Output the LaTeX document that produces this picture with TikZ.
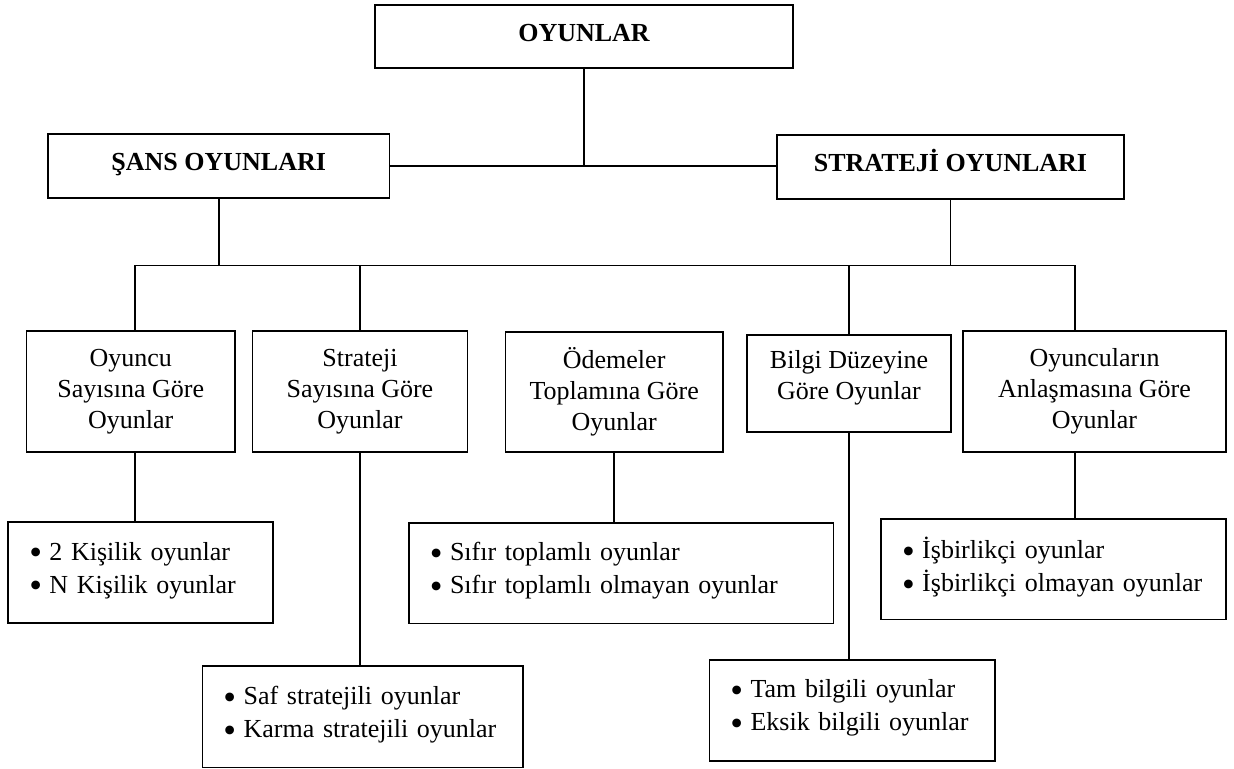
\documentclass[tikz,border=0pt]{standalone}
\usepackage{fontspec}
\setmainfont{Liberation Serif}
\newcommand{\lowstrut}[1]{\rule[-#1]{0pt}{0pt}}
\newcommand{\bul}{\raisebox{-2.4pt}{\scalebox{1.4}{\textbullet}}\kern-0.6pt\ }
\begin{document}
\begin{tikzpicture}[x=0.5pt,y=-0.5pt,
  box/.style={draw,line width=0.8pt,inner sep=0pt,outer sep=0pt,align=center,
    font=\fontsize{13pt}{15.5pt}\selectfont},
  headbox/.style={box,font=\fontsize{13pt}{15.5pt}\selectfont\bfseries,text height=9pt,text depth=4pt},
  listbox/.style={draw,line width=0.8pt,outer sep=0pt,inner ysep=0pt,inner xsep=10.5pt,align=left,
    font=\fontsize{13pt}{16.5pt}\selectfont},
  conn/.style={line width=0.75pt}]
\useasboundingbox (0,0) rectangle (1234,769);
% head boxes
\node[headbox,minimum width=209pt,minimum height=31.5pt] (top) at (584,36.5) {OYUNLAR};
\node[headbox,minimum width=170.75pt,minimum height=32pt] (sans) at (218.75,166) {ŞANS OYUNLARI};
\node[headbox,minimum width=173.5pt,minimum height=32pt] (strat) at (950.5,167) {STRATEJİ OYUNLARI};
% category boxes
\node[box,minimum width=104.25pt,minimum height=60.5pt] (c1) at (130.75,391.5) {Oyuncu\\Sayısına Göre\\Oyunlar};
\node[box,minimum width=107.35pt,minimum height=60.5pt] (c2) at (360,391.5) {Strateji\\Sayısına Göre\\Oyunlar};
\node[box,minimum width=108.85pt,minimum height=60pt] (c3) at (614.15,392) {Ödemeler\\Toplamına Göre\\Oyunlar};
\node[box,minimum width=102pt,minimum height=48.5pt] (c4) at (849,383.5) {Bilgi Düzeyine\\Göre Oyunlar\lowstrut{9pt}};
\node[box,minimum width=131.5pt,minimum height=60.5pt] (c5) at (1094.5,391.5) {Oyuncuların\\Anlaşmasına Göre\\Oyunlar};
% list boxes
\node[listbox,text width=111.5pt,minimum height=50.5pt] (l1) at (140.75,572.5) {\bul 2 Kişilik oyunlar\\\bul N Kişilik oyunlar\lowstrut{5pt}};
\node[listbox,text width=139.35pt,minimum height=50.65pt] (l2) at (362.75,716.65) {\bul Saf stratejili oyunlar\\\bul Karma stratejili oyunlar\lowstrut{5pt}};
\node[listbox,text width=191.35pt,minimum height=50.3pt] (l3) at (621.15,573) {\bul Sıfır toplamlı oyunlar\\\bul Sıfır toplamlı olmayan oyunlar\lowstrut{5pt}};
\node[listbox,text width=121.75pt,minimum height=50.35pt] (l4) at (852.05,710.35) {\bul Tam bilgili oyunlar\\\bul Eksik bilgili oyunlar\lowstrut{5pt}};
\node[listbox,text width=151.35pt,minimum height=50.3pt] (l5) at (1053.35,569) {\bul İşbirlikçi oyunlar\\\bul İşbirlikçi olmayan oyunlar\lowstrut{5pt}};
% bus coordinates
\coordinate (busL) at (135,265.5);
\coordinate (busR) at (1075,265.5);
% connectors
\draw[conn] (sans.east) -- (sans.east -| strat.west);
\draw[conn] (top.south) -- (top.south |- sans.east);
\draw[conn] (busL) -- (busR);
\draw[conn] (sans.south) -- (sans.south |- busL);
\draw[conn] (strat.south) -- (strat.south |- busR);
\draw[conn] (busL) -- (busL |- c1.north);
\draw[conn] (c2.north |- busL) -- (c2.north);
\draw[conn] (c4.north |- busL) -- (c4.north);
\draw[conn] (busR) -- (busR |- c5.north);
\draw[conn] (busL |- c1.south) -- (busL |- l1.north);
\draw[conn] (c2.south) -- (c2.south |- l2.north);
\draw[conn] (c3.south) -- (c3.south |- l3.north);
\draw[conn] (c4.south) -- (c4.south |- l4.north);
\draw[conn] (busR |- c5.south) -- (busR |- l5.north);
\end{tikzpicture}
\end{document}
